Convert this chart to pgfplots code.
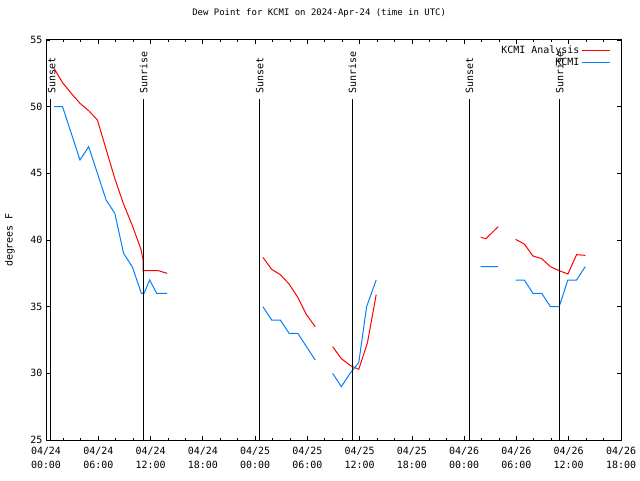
\documentclass[border=0pt]{standalone}
\usepackage{pgfplots}
\pgfplotsset{compat=1.18}
\usepackage{pgfplotstable}
\usepackage{fontspec}
\setmainfont{DejaVu Sans Mono}
\usetikzlibrary{calc}
\definecolor{kblue}{RGB}{0,128,255}

\pgfplotstableread{
h v
0.9 52.9
1.9 51.8
2.9 51.0
3.9 50.25
4.9 49.7
5.9 49.0
6.9 46.8
7.9 44.6
8.9 42.7
9.9 41.1
10.9 39.3
11.15 38.5
11.15 37.7
11.9 37.7
12.9 37.7
13.9 37.5
14.0 nan
24.9 38.7
25.9 37.8
26.9 37.4
27.9 36.7
28.9 35.7
29.9 34.4
30.9 33.5
31.0 nan
32.9 32.0
33.9 31.1
34.9 30.6
35.9 30.3
36.9 32.3
37.9 35.9
38.0 nan
49.9 40.2
50.5 40.1
51.9 41.0
52.0 nan
53.9 40.05
54.9 39.7
55.9 38.8
56.9 38.6
57.9 38.0
58.9 37.7
59.9 37.45
60.9 38.9
61.9 38.85
}\analysis

\pgfplotstableread{
h v
0.9 50
1.9 50
2.9 48
3.9 46
4.9 47
5.9 45
6.9 43
7.9 42
8.9 39
9.9 38
10.95 36
11.25 36
11.9 37
12.7 36
13.9 36
14.0 nan
24.9 35
25.9 34
26.9 34
27.9 33
28.9 33
29.9 32
30.9 31
31.0 nan
32.9 30
33.9 29
34.9 30
35.9 30.8
36.8 35
37.9 37
38.0 nan
49.9 38
50.9 38
51.9 38
52.0 nan
53.9 37
54.9 37
55.9 36
56.9 36
57.9 35
58.9 35
59.9 37
60.9 37
61.9 38
}\kcmi

\begin{document}
\begin{tikzpicture}
\begin{axis}[
  scale only axis,
  width=575bp, height=400bp,
  xmin=0, xmax=66, ymin=25, ymax=55,
  xtick={0,6,...,66},
  xticklabels={04/24\\00:00,04/24\\06:00,04/24\\12:00,04/24\\18:00,04/25\\00:00,04/25\\06:00,04/25\\12:00,04/25\\18:00,04/26\\00:00,04/26\\06:00,04/26\\12:00,04/26\\18:00},
  minor x tick num=2,
  ytick={25,30,...,55},
  tick align=inside, tick pos=both,
  major tick length=4bp, minor tick length=2bp,
  every tick/.style={black, line width=0.8bp},
  axis line style={line width=1bp},
  /pgf/number format/assume math mode=true,
  xticklabel style={align=center, font=\fontsize{10}{14}\selectfont, yshift=-4bp},
  yticklabel style={font=\fontsize{10}{12}\selectfont},
  ylabel={degrees F},
  ylabel style={at={(axis description cs:-0.0626,0.5)}, anchor=center, font=\fontsize{10}{12}\selectfont},
  title={Dew Point for KCMI on 2024-Apr-24 (time in UTC)},
  title style={at={(axis description cs:0.475,1.0525)}, anchor=center, font=\fontsize{9}{11}\selectfont},
  unbounded coords=jump,
  legend style={draw=none, fill=none, at={(axis cs:64.8,54.75)}, anchor=north east,
    font=\fontsize{10}{12}\selectfont, legend cell align=right,
    row sep=-0.5bp, inner sep=0pt},
  legend plot pos=right,
  legend image code/.code={\draw[#1] (0bp,0bp) -- (28bp,0bp);},
]
\addplot[red, line width=1bp] table[x=h,y=v] {\analysis};
\addlegendentry{KCMI Analysis}
\addplot[kblue, line width=1bp] table[x=h,y=v] {\kcmi};
\addlegendentry{KCMI}

\addplot[black, line width=1bp, forget plot] coordinates {(0.57,25) (0.57,50.6)};
\addplot[black, line width=1bp, forget plot] coordinates {(11.2,25) (11.2,50.6)};
\addplot[black, line width=1bp, forget plot] coordinates {(24.54,25) (24.54,50.6)};
\addplot[black, line width=1bp, forget plot] coordinates {(35.17,25) (35.17,50.6)};
\addplot[black, line width=1bp, forget plot] coordinates {(48.6,25) (48.6,50.6)};
\addplot[black, line width=1bp, forget plot] coordinates {(58.95,25) (58.95,50.6)};

\node[rotate=90, anchor=west, inner sep=0pt, font=\fontsize{10}{12}\selectfont] at (axis cs:0.65,51.0) {Sunset};
\node[rotate=90, anchor=west, inner sep=0pt, font=\fontsize{10}{12}\selectfont] at (axis cs:11.2,51.0) {Sunrise};
\node[rotate=90, anchor=west, inner sep=0pt, font=\fontsize{10}{12}\selectfont] at (axis cs:24.54,51.0) {Sunset};
\node[rotate=90, anchor=west, inner sep=0pt, font=\fontsize{10}{12}\selectfont] at (axis cs:35.17,51.0) {Sunrise};
\node[rotate=90, anchor=west, inner sep=0pt, font=\fontsize{10}{12}\selectfont] at (axis cs:48.6,51.0) {Sunset};
\node[rotate=90, anchor=west, inner sep=0pt, font=\fontsize{10}{12}\selectfont] at (axis cs:58.95,51.0) {Sunrise};
\end{axis}
\pgfresetboundingbox
\path[use as bounding box] ($(current axis.south west)+(-46bp,-40bp)$) rectangle ($(current axis.north east)+(19bp,40bp)$);
\end{tikzpicture}
\end{document}
